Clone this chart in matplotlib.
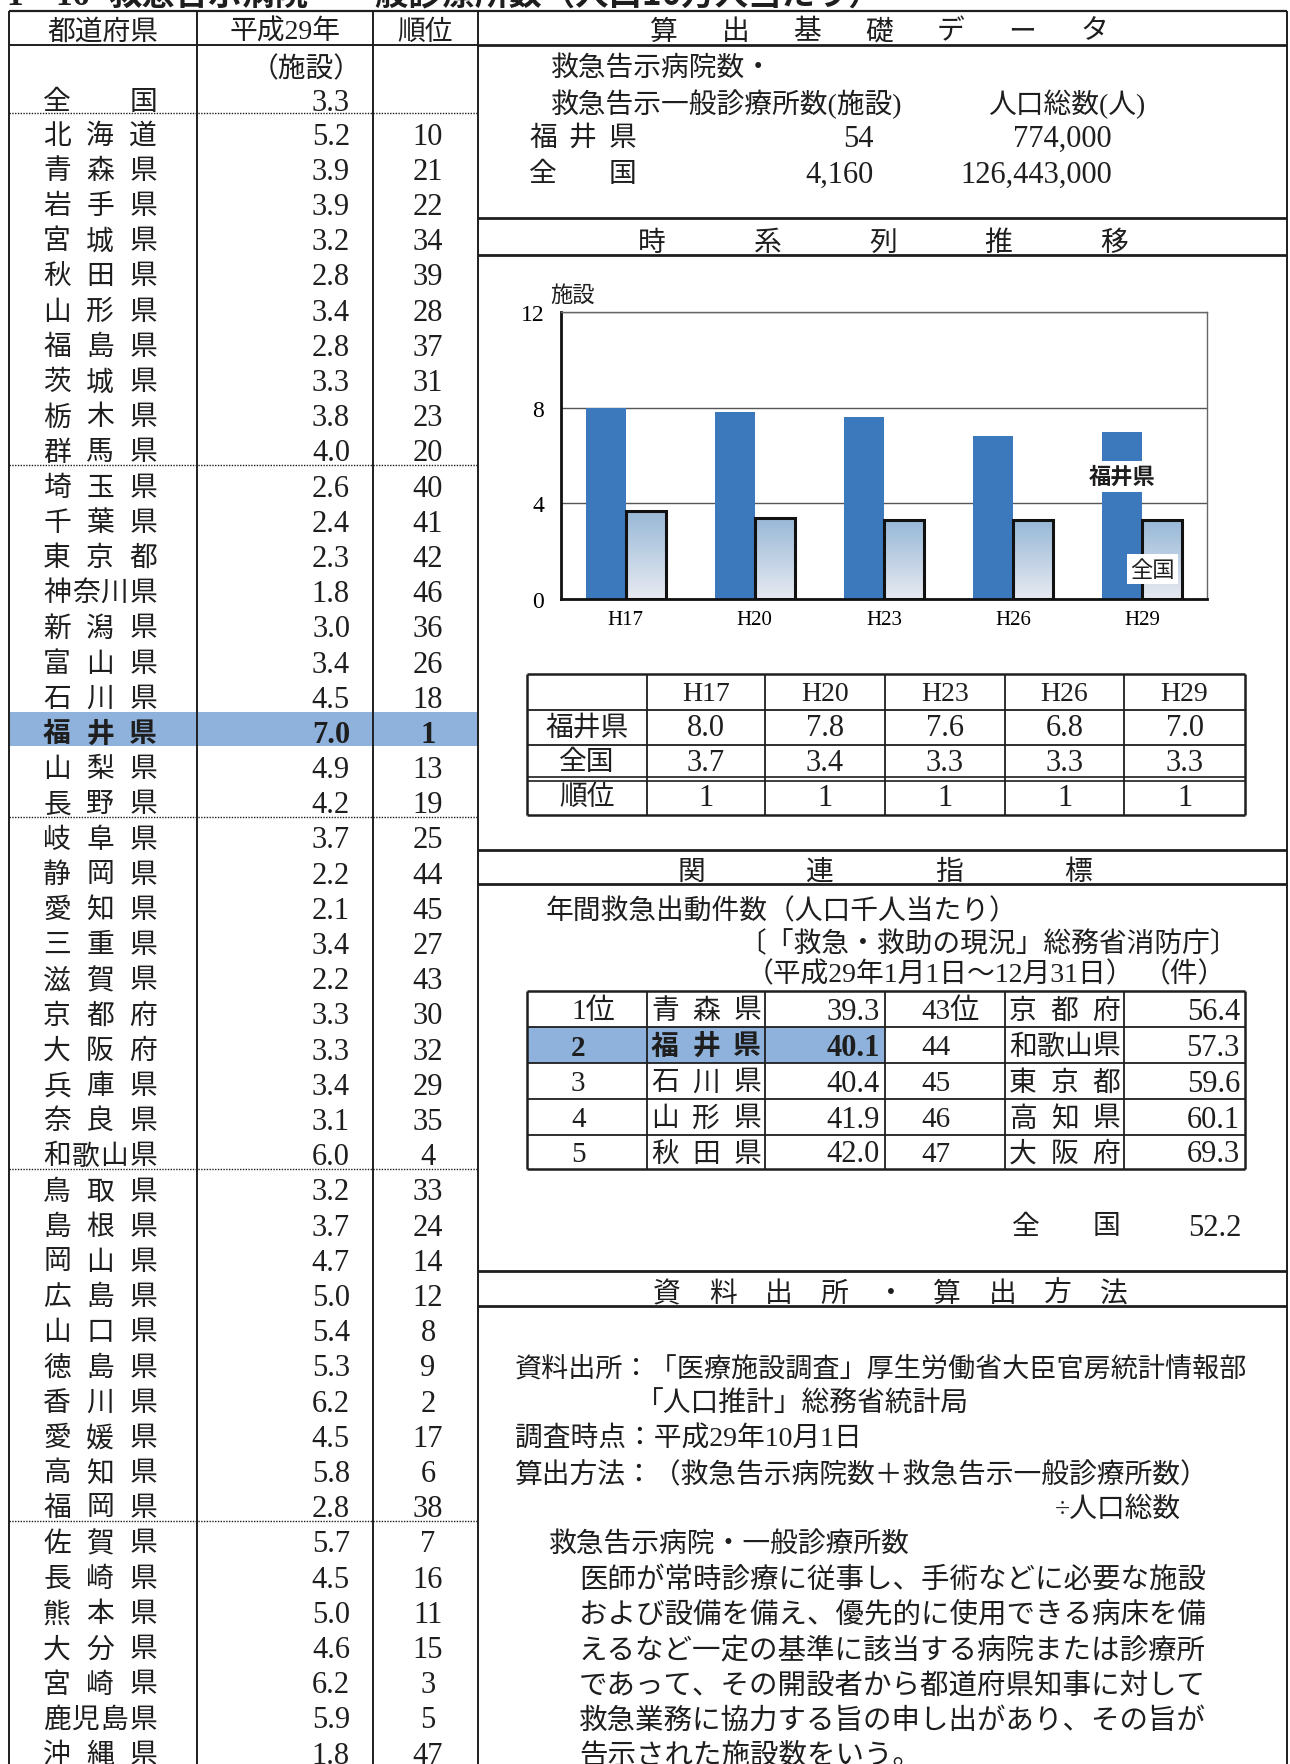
import numpy as np
import matplotlib
matplotlib.use("Agg")
import matplotlib.pyplot as plt
from matplotlib.patches import Rectangle
from matplotlib.colors import LinearSegmentedColormap

plt.rcParams['font.family'] = ['Liberation Serif', 'Noto Sans CJK JP']
JP = ['Noto Sans CJK JP', 'DejaVu Sans']

# ---- data ----
prefs = ['北海道', '青森県', '岩手県', '宮城県', '秋田県', '山形県', '福島県', '茨城県', '栃木県', '群馬県',
         '埼玉県', '千葉県', '東京都', '神奈川県', '新潟県', '富山県', '石川県', '福井県', '山梨県', '長野県',
         '岐阜県', '静岡県', '愛知県', '三重県', '滋賀県', '京都府', '大阪府', '兵庫県', '奈良県', '和歌山県',
         '鳥取県', '島根県', '岡山県', '広島県', '山口県', '徳島県', '香川県', '愛媛県', '高知県', '福岡県',
         '佐賀県', '長崎県', '熊本県', '大分県', '宮崎県', '鹿児島県', '沖縄県']
values = [5.2, 3.9, 3.9, 3.2, 2.8, 3.4, 2.8, 3.3, 3.8, 4.0,
          2.6, 2.4, 2.3, 1.8, 3.0, 3.4, 4.5, 7.0, 4.9, 4.2,
          3.7, 2.2, 2.1, 3.4, 2.2, 3.3, 3.3, 3.4, 3.1, 6.0,
          3.2, 3.7, 4.7, 5.0, 5.4, 5.3, 6.2, 4.5, 5.8, 2.8,
          5.7, 4.5, 5.0, 4.6, 6.2, 5.9, 1.8]
ranks = [10, 21, 22, 34, 39, 28, 37, 31, 23, 20,
         40, 41, 42, 46, 36, 26, 18, 1, 13, 19,
         25, 44, 45, 27, 43, 30, 32, 29, 35, 4,
         33, 24, 14, 12, 8, 9, 2, 17, 6, 38,
         7, 16, 11, 15, 3, 5, 47]
national_value = 3.3

years = ['H17', 'H20', 'H23', 'H26', 'H29']
fukui_trend = [8.0, 7.8, 7.6, 6.8, 7.0]
national_trend = [3.7, 3.4, 3.3, 3.3, 3.3]
rank_trend = [1, 1, 1, 1, 1]

top_rank = ['1位', '2', '3', '4', '5']
top_pref = ['青森県', '福井県', '石川県', '山形県', '秋田県']
top_val = [39.3, 40.1, 40.4, 41.9, 42.0]
low_rank = ['43位', '44', '45', '46', '47']
low_pref = ['京都府', '和歌山県', '東京都', '高知県', '大阪府']
low_val = [56.4, 57.3, 59.6, 60.1, 69.3]
dispatch_national = 52.2

W, H = 1290, 1765
INK = '#1e1e1e'
HL = '#8fb2dc'
DY = 5  # text sits a little low in the cells

fig = plt.figure(figsize=(W / 100, H / 100), dpi=100)
page = fig.add_axes([0, 0, 1, 1])
page.set_xlim(0, W)
page.set_ylim(H, 0)
page.axis('off')


def hline(y, x0, x1, lw=1.2, ls='-', color=INK):
    page.plot([x0, x1], [y, y], color=color, lw=lw, ls=ls, solid_capstyle='butt')


def vline(x, y0, y1, lw=1.2, color=INK):
    page.plot([x, x], [y0, y1], color=color, lw=lw, solid_capstyle='butt')


def spread(s, x0, x1, y, size=20, **kw):
    n = len(s)
    xs = [x0] if n == 1 else np.linspace(x0, x1, n)
    for ch, x in zip(s, xs):
        page.text(x, y + DY, ch, ha='center', va='center', fontsize=size, color=INK, **kw)


def txt(x, y, s, size=20, ha='left', **kw):
    page.text(x, y + DY, s, ha=ha, va='center', fontsize=size, color=INK, **kw)


# ---- title (cut off at the top of the page) ----
page.text(6, 5, '1－16', ha='left', va='baseline', fontsize=24, fontweight='bold', color=INK)
page.text(108, 5, '救急告示病院・一般診療所数（人口10万人当たり）', ha='left', va='baseline',
          fontsize=24, fontweight='bold', color=INK, family=JP)

# ---- left table ----
LX = [9, 197, 373, 478]
top, head_bot = 12, 46
row0, step = 132, 35.2

i_fukui = prefs.index('福井県')
yf = row0 + step * i_fukui
page.add_patch(Rectangle((LX[0], yf - 17), LX[3] - LX[0], 34, color=HL, lw=0, zorder=0))

hline(top, LX[0], 1287, lw=1.6)
hline(head_bot, LX[0], LX[3], lw=1.4)
for x in LX:
    vline(x, top, H, lw=1.4)

txt((LX[0] + LX[1]) / 2, 28, '都道府県', ha='center')
txt((LX[1] + LX[2]) / 2, 28, '平成29年', ha='center')
txt((LX[2] + LX[3]) / 2, 28, '順位', ha='center')
txt(362, 65, '（施設）', ha='right')
spread('全国', 57, 143, 98)
txt(350, 98, f'{national_value:.1f}', size=22, ha='right')
hline(row0 - step / 2, LX[0], LX[3], lw=1, ls=(0, (1, 1)))

for i, (p, v, r) in enumerate(zip(prefs, values, ranks)):
    y = row0 + step * i
    w = 'bold' if i == i_fukui else 'normal'
    spread(p, 57, 143, y, fontweight=w)
    txt(350, y, f'{v:.1f}', size=22, ha='right', fontweight=w)
    txt(428, y, str(r), size=22, ha='center', fontweight=w)
    if i % 10 == 9 and i < len(prefs) - 1:
        hline(y + step / 2, LX[0], LX[3], lw=1, ls=(0, (1, 1)))

# ---- right panel ----
RX0, RX1 = 478, 1287
vline(RX1, top, H, lw=1.4)
hline(head_bot, RX0, RX1, lw=2)
spread('算出基礎データ', 664, 1094, 28)

txt(551, 64, '救急告示病院数・')
txt(551, 99, '救急告示一般診療所数(施設)')
txt(988, 99, '人口総数(人)')
spread('福井県', 543, 622, 134)
spread('全国', 543, 622, 170)
txt(874, 134, '54', size=22, ha='right')
txt(1112, 134, '774,000', size=22, ha='right')
txt(874, 170, '4,160', size=22, ha='right')
txt(1112, 170, '126,443,000', size=22, ha='right')

hline(219, RX0, RX1, lw=2)
hline(256, RX0, RX1, lw=2)
spread('時系列推移', 652, 1114, 239)

# ---- bar chart ----
ax = fig.add_axes([561 / W, 1 - 600 / H, (1207 - 561) / W, (600 - 313) / H])
x = np.arange(len(years))
bw = 0.31
ax.bar(x - bw / 2, fukui_trend, bw, color='#3b78bc', zorder=2)
nat = ax.bar(x + bw / 2, national_trend, bw, facecolor='none', edgecolor='#111111',
             linewidth=2.2, zorder=4)
grad = np.linspace(0, 1, 256).reshape(-1, 1)
cmap = LinearSegmentedColormap.from_list('nat', ['#97b8d7', '#e8eaf1'])
for b in nat:
    x0, y0 = b.get_xy()
    im = ax.imshow(grad, extent=[x0, x0 + b.get_width(), y0, y0 + b.get_height()],
                   origin='upper', aspect='auto', cmap=cmap, zorder=3)
    im.set_clip_path(b)
ax.set_xlim(-0.5, len(years) - 0.5)
ax.set_ylim(0, 12)
ax.set_yticks([0, 4, 8, 12])
ax.set_xticks(x)
ax.set_xticklabels(years)
ax.yaxis.grid(True, color='#555555', lw=1)
ax.set_axisbelow(True)
ax.tick_params(length=0, labelsize=17)
ax.tick_params(axis='y', pad=12)
ax.tick_params(axis='x', pad=8, labelsize=15)
for s in ['left', 'bottom']:
    ax.spines[s].set_linewidth(2)
    ax.spines[s].set_color('#111111')
for s in ['top', 'right']:
    ax.spines[s].set_linewidth(1)
    ax.spines[s].set_color('#666666')
ax.text(x[-1] - bw / 2, 5.12, '福井県', ha='center', va='center', fontsize=16, fontweight='bold',
        family=JP, color=INK, zorder=6,
        bbox=dict(facecolor='white', edgecolor='none', boxstyle='square,pad=0.2'))
ax.text(x[-1] + 0.08, 1.25, '全国', ha='center', va='center', fontsize=16, family=JP, color=INK,
        zorder=6, bbox=dict(facecolor='white', edgecolor='none', boxstyle='square,pad=0.15'))
page.text(573, 296, '施設', ha='center', va='center', fontsize=16, color=INK)

# ---- trend table ----
TX = [527, 647, 765, 885, 1005, 1124, 1245]
TY = [675, 711, 746, 780, 816]
for j, y in enumerate(TY):
    if j == 3:
        hline(y - 2, TX[0], TX[-1], lw=1.2)
        hline(y + 2, TX[0], TX[-1], lw=1.2)
    else:
        hline(y, TX[0], TX[-1], lw=1.8 if j in (0, 4) else 1.3)
for k, xx in enumerate(TX):
    vline(xx, TY[0], TY[-1], lw=1.8 if k in (0, 6) else 1.3)
rows = [('福井県', [f'{v:.1f}' for v in fukui_trend]),
        ('全国', [f'{v:.1f}' for v in national_trend]),
        ('順位', [str(v) for v in rank_trend])]
for k, yr in enumerate(years):
    txt((TX[k + 1] + TX[k + 2]) / 2, (TY[0] + TY[1]) / 2 - DY + 1, yr, ha='center')
for j, (lab, vals) in enumerate(rows):
    yc = (TY[j + 1] + TY[j + 2]) / 2 - DY
    txt((TX[0] + TX[1]) / 2, yc, lab, ha='center')
    for k, v in enumerate(vals):
        txt((TX[k + 1] + TX[k + 2]) / 2, yc, v, size=22, ha='center')

# ---- related indicators ----
hline(851, RX0, RX1, lw=2)
hline(885, RX0, RX1, lw=2)
spread('関連指標', 691, 1078, 868)
txt(546, 907, '年間救急出動件数（人口千人当たり）')
txt(1238, 940, '〔「救急・救助の現況」総務省消防庁〕', ha='right')
txt(746, 970, '（平成29年1月1日～12月31日）')
txt(1226, 970, '（件）', ha='right')

RY = [992, 1028, 1064, 1100, 1136, 1170]
page.add_patch(Rectangle((TX[0], RY[1]), TX[3] - TX[0], RY[2] - RY[1], color=HL, lw=0, zorder=0))
for j, y in enumerate(RY):
    hline(y, TX[0], TX[-1], lw=1.8 if j in (0, 5) else 1.3)
for k, xx in enumerate(TX):
    vline(xx, RY[0], RY[-1], lw=1.8 if k in (0, 6) else 1.3)
for j in range(len(top_rank)):
    yc = (RY[j] + RY[j + 1]) / 2 - 3
    w = 'bold' if top_pref[j] == '福井県' else 'normal'
    txt(TX[0] + 44, yc, top_rank[j], size=21, fontweight=w)
    spread(top_pref[j], TX[1] + 18, TX[2] - 18, yc, fontweight=w)
    txt(TX[3] - 5, yc, f'{top_val[j]:.1f}', size=22, ha='right', fontweight=w)
    txt(TX[3] + 36, yc, low_rank[j], size=21)
    spread(low_pref[j], TX[4] + 18, TX[5] - 18, yc)
    txt(TX[6] - 5, yc, f'{low_val[j]:.1f}', size=22, ha='right')
spread('全国', 1026, 1106, 1223)
txt(1241, 1223, f'{dispatch_national:.1f}', size=22, ha='right')

# ---- sources / method ----
hline(1272, RX0, RX1, lw=2)
hline(1307, RX0, RX1, lw=2)
spread('資料出所・算出方法', 667, 1114, 1290)
txt(515, 1365, '資料出所：「医療施設調査」厚生労働省大臣官房統計情報部', size=19.5)
txt(636, 1400, '「人口推計」総務省統計局')
txt(515, 1435, '調査時点：平成29年10月1日')
txt(515, 1471, '算出方法：（救急告示病院数＋救急告示一般診療所数）')
txt(1181, 1505, '÷人口総数', ha='right')
txt(549, 1541, '救急告示病院・一般診療所数')
desc = ['医師が常時診療に従事し、手術などに必要な施設',
        'および設備を備え、優先的に使用できる病床を備',
        'えるなど一定の基準に該当する病院または診療所',
        'であって、その開設者から都道府県知事に対して',
        '救急業務に協力する旨の申し出があり、その旨が',
        '告示された施設数をいう。']
for k, line in enumerate(desc):
    txt(579, 1575 + 35.4 * k, line, size=20.5)

fig.savefig('out.png', dpi=100)
